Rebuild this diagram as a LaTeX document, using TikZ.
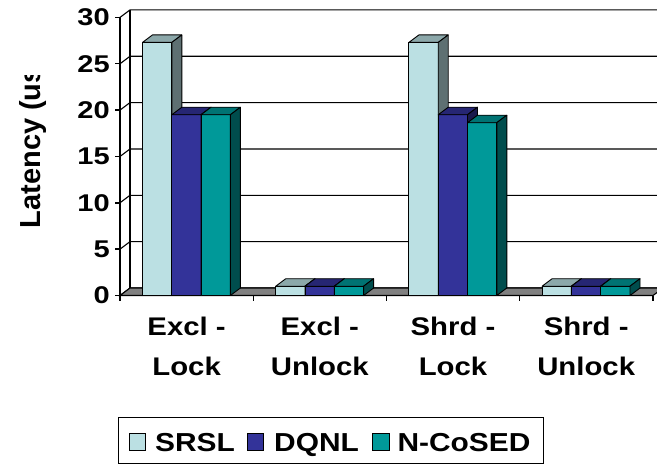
\documentclass[tikz,border=0pt]{standalone}
\usepackage{fontspec}
\setmainfont{Liberation Sans}

\definecolor{srslF}{RGB}{187,224,227}
\definecolor{srslT}{RGB}{140,168,170}
\definecolor{srslS}{RGB}{94,112,114}
\definecolor{dqnlF}{RGB}{51,51,153}
\definecolor{dqnlT}{RGB}{38,38,115}
\definecolor{dqnlS}{RGB}{26,26,77}
\definecolor{ncF}{RGB}{0,153,153}
\definecolor{ncT}{RGB}{0,115,115}
\definecolor{ncS}{RGB}{0,77,77}
\definecolor{floorgray}{RGB}{128,128,128}

% horizontally stretched text
\newcommand\stretchtxt[2]{\scalebox{#1}[1]{#2}}

% one 3-D column: left x, value, front/top/side colours
\newcommand\drawcol[5]{%
  \pgfmathsetmacro\ytop{295.5-9.27*#2}%
  \filldraw[barline, fill=#3] (#1,295.5) rectangle (#1+29.3,\ytop);
  \filldraw[barline, fill=#4] (#1,\ytop) -- (#1+10,\ytop-7.5) -- (#1+39.3,\ytop-7.5) -- (#1+29.3,\ytop) -- cycle;
  \filldraw[barline, fill=#5] (#1+29.3,\ytop) -- (#1+39.3,\ytop-7.5) -- (#1+39.3,288) -- (#1+29.3,295.5) -- cycle;
}

\begin{document}
\begin{tikzpicture}[x=1pt,y=-1pt,
  grid/.style={line width=1.1pt},
  axisline/.style={line width=1.4pt},
  barline/.style={line width=0.9pt, line join=round},
  ticklab/.style={anchor=east, inner sep=0pt, font=\fontsize{24.2}{28}\selectfont\bfseries},
  catlab/.style={anchor=base, inner sep=0pt, font=\fontsize{25.5}{30}\selectfont\bfseries},
  leglab/.style={anchor=base west, inner sep=0pt, font=\fontsize{26}{30}\selectfont\bfseries},
  swatch/.style={draw, line width=0.9pt, minimum size=16.5pt, inner sep=0pt}]

\useasboundingbox (0,0) rectangle (657,466);
\fill[white] (0,0) rectangle (657,466);

% gridlines on side and back walls, value ticks and labels
\foreach \v in {0,5,...,30} {
  \draw[grid] (120,{295.5-9.27*\v}) -- (130,{288-9.27*\v}) -- (663,{288-9.27*\v});
  \draw[axisline] (115,{295.5-9.27*\v}) -- (120,{295.5-9.27*\v});
  \node[ticklab] (t\v) at (110,{295.5-9.27*\v}) {\stretchtxt{1.2}{\v}};
}
\draw[grid] (130,288) -- (130,10);

% floor
\filldraw[fill=floorgray, grid] (120,295.5) -- (653,295.5) -- (663,288) -- (130,288) -- cycle;

% axes
\draw[axisline] (120,295.5) -- (120,{295.5-9.27*30});
\draw[axisline] (120,295.5) -- (653,295.5);
\foreach \i in {0,...,4} {
  \draw[axisline] ({120+133.2*\i},295.5) -- ({120+133.2*\i},301);
}

% columns
\foreach \s/\a/\b/\c in {120/27.3/19.5/19.5, 253.2/1/1/1, 386.4/27.3/19.5/18.64, 519.6/1/1/1} {
  \drawcol{\s+22.5}{\a}{srslF}{srslT}{srslS}
  \drawcol{\s+51.8}{\b}{dqnlF}{dqnlT}{dqnlS}
  \drawcol{\s+81.1}{\c}{ncF}{ncT}{ncS}
}

% category labels
\node[catlab] (c1a) at (186.6,335) {\stretchtxt{1.15}{Excl -}};
\node[catlab] (c1b) at (186.6,375) {\stretchtxt{1.15}{Lock}};
\node[catlab] (c2a) at (319.8,335) {\stretchtxt{1.15}{Excl -}};
\node[catlab] (c2b) at (319.8,375) {\stretchtxt{1.15}{Unlock}};
\node[catlab] (c3a) at (453.0,335) {\stretchtxt{1.15}{Shrd -}};
\node[catlab] (c3b) at (453.0,375) {\stretchtxt{1.15}{Lock}};
\node[catlab] (c4a) at (586.2,335) {\stretchtxt{1.15}{Shrd -}};
\node[catlab] (c4b) at (586.2,375) {\stretchtxt{1.15}{Unlock}};

% value axis title (cut at the top)
\begin{scope}
  \clip (0,75.5) rectangle (100,300);
  \node[rotate=90, anchor=base west, inner sep=0pt, font=\fontsize{29}{32}\selectfont\bfseries] (ytitle) at (40.7,228.5) {Latency (us)};
\end{scope}

% legend
\draw[line width=1.3pt] (118.3,417.3) rectangle (543.3,463.5);
\node[swatch, fill=srslF] (k1) at (137.5,441.7) {};
\node[leglab] (l1) at (155,451.7) {\stretchtxt{1.15}{SRSL}};
\node[swatch, fill=dqnlF] (k2) at (255.5,441.7) {};
\node[leglab] (l2) at (274,451.7) {\stretchtxt{1.15}{DQNL}};
\node[swatch, fill=ncF] (k3) at (380.8,441.7) {};
\node[leglab] (l3) at (397.3,451.7) {\stretchtxt{1.15}{N-CoSED}};
\end{tikzpicture}
\end{document}
